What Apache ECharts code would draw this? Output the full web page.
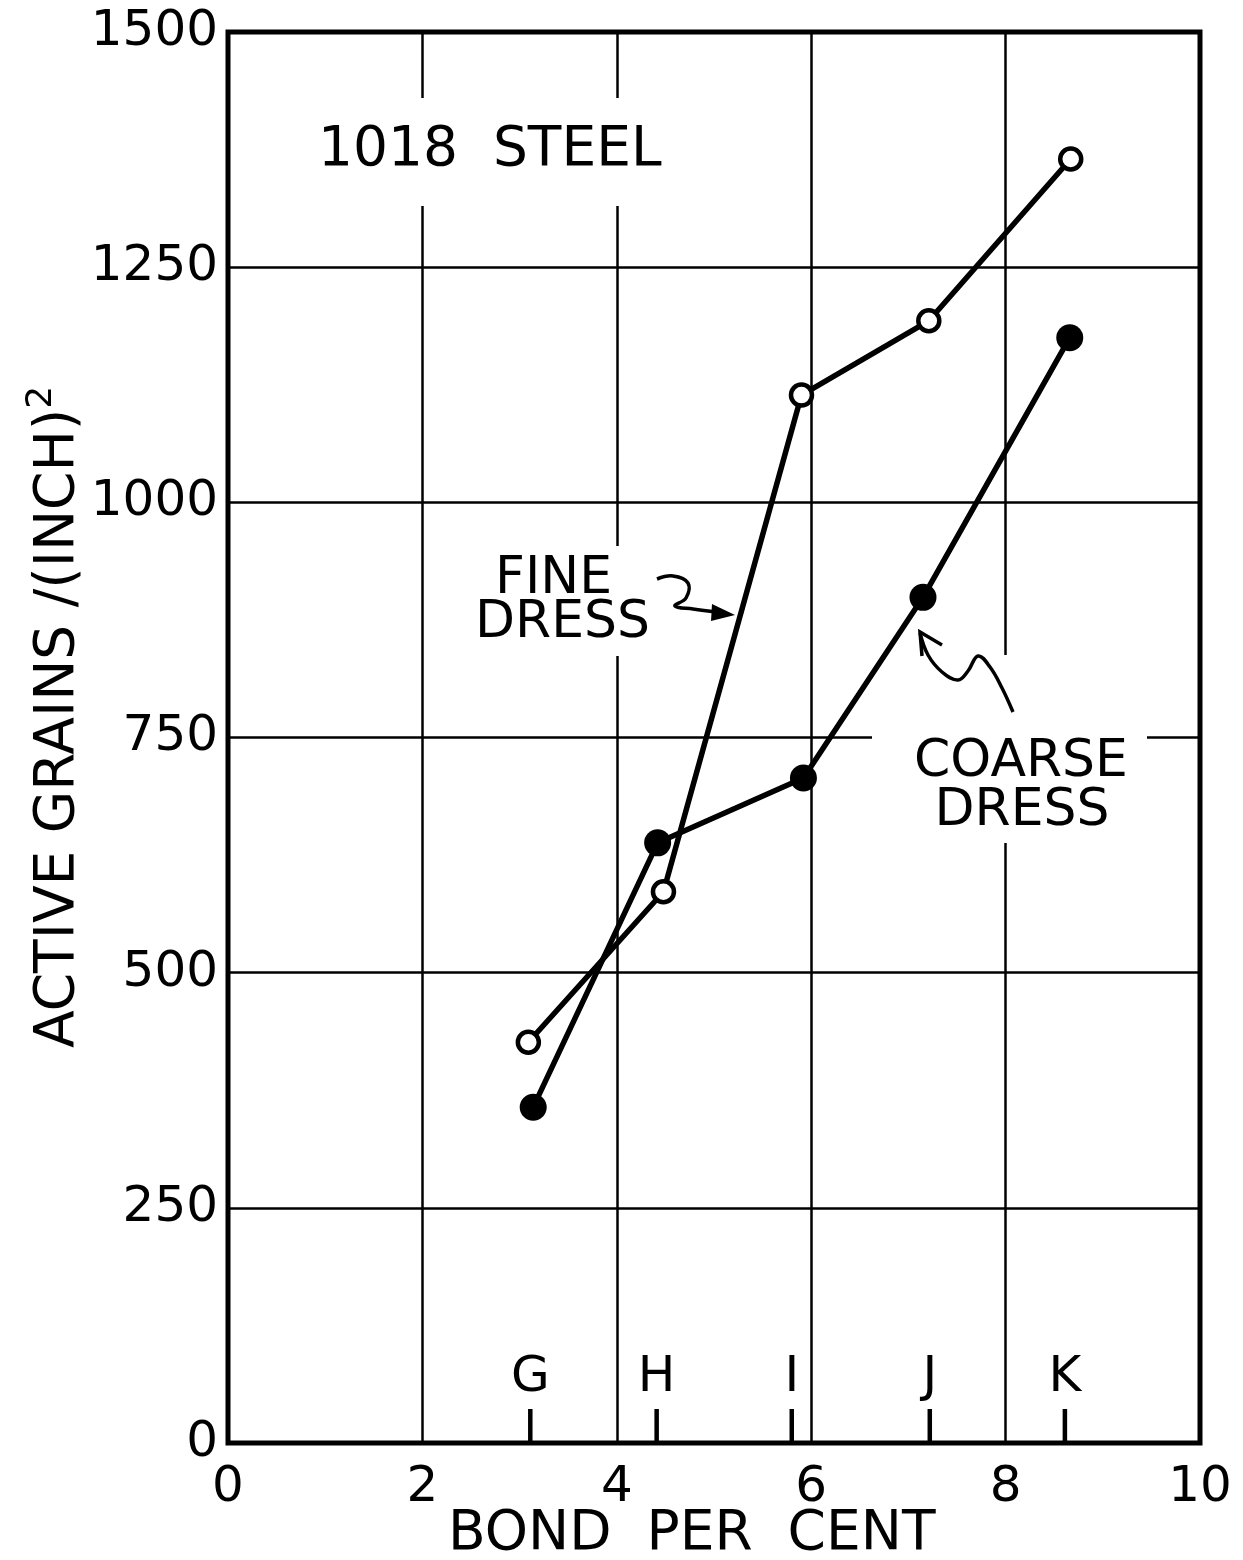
<!DOCTYPE html>
<html><head><meta charset="utf-8">
<script src="https://cdn.jsdelivr.net/npm/echarts@6/dist/echarts.min.js"></script>
<style>html,body{margin:0;padding:0;background:#fff}#c{width:1243px;height:1560px}</style>
</head><body><div id="c"></div>
<script>
// ---- data ----
const xTicks = [0, 2, 4, 6, 8, 10];
const yTicks = [0, 250, 500, 750, 1000, 1250, 1500];
const fineBond = [3.09, 4.48, 5.90, 7.21, 8.67];
const fineGrains = [426, 586, 1114, 1193, 1365];
const coarseBond = [3.14, 4.42, 5.92, 7.15, 8.66];
const coarseGrains = [357, 638, 707, 899, 1175];
const bondGrades = ['G', 'H', 'I', 'J', 'K'];
const bondGradeX = [3.11, 4.41, 5.80, 7.22, 8.61];

const FONT = 'DejaVu Sans';
const chart = echarts.init(document.getElementById('c'), null, {renderer: 'canvas'});

const txt = (text, x, y, size, align) => ({
  type: 'text', x: x, y: y, z: 20,
  style: {text: text, fill: '#000', font: size + 'px "' + FONT + '"', textAlign: align || 'left', textVerticalAlign: 'middle'}
});
const white = (x, y, w, h) => ({type: 'rect', z: 15, shape: {x: x, y: y, width: w, height: h}, style: {fill: '#fff'}});

const option = {
  backgroundColor: '#fff',
  animation: false,
  grid: {left: 228, right: 43, top: 32, bottom: 117, show: true, borderColor: '#000', borderWidth: 5, backgroundColor: 'transparent'},
  xAxis: {
    type: 'value', min: xTicks[0], max: xTicks[xTicks.length - 1], interval: xTicks[1] - xTicks[0],
    axisLine: {show: false}, axisTick: {show: false},
    splitLine: {show: true, lineStyle: {color: '#000', width: 2.5}},
    axisLabel: {color: '#000', fontFamily: FONT, fontSize: 50, margin: 20, formatter: v => String(v)}
  },
  yAxis: {
    type: 'value', min: yTicks[0], max: yTicks[yTicks.length - 1], interval: yTicks[1] - yTicks[0],
    axisLine: {show: false}, axisTick: {show: false},
    splitLine: {show: true, lineStyle: {color: '#000', width: 2.5}},
    axisLabel: {color: '#000', fontFamily: FONT, fontSize: 50, margin: 10, formatter: v => String(v)}
  },
  series: [
    {
      name: 'COARSE DRESS', type: 'line', z: 3,
      data: coarseBond.map((x, i) => [x, coarseGrains[i]]),
      symbol: 'circle', symbolSize: 27, showSymbol: true,
      lineStyle: {color: '#000', width: 5.5},
      itemStyle: {color: '#000', borderWidth: 0, opacity: 1},
      emphasis: {disabled: true}
    },
    {
      name: 'FINE DRESS', type: 'line', z: 4,
      data: fineBond.map((x, i) => [x, fineGrains[i]]),
      symbol: 'circle', symbolSize: 21, showSymbol: true,
      lineStyle: {color: '#000', width: 5.5},
      itemStyle: {color: '#fff', borderColor: '#000', borderWidth: 4.5, opacity: 1},
      emphasis: {disabled: true}
    },
    {
      name: 'Bond grade', type: 'scatter', z: 3, clip: false,
      data: bondGradeX.map((x) => [x, 0]),
      symbol: 'rect', symbolSize: [4.5, 34], symbolOffset: [0, -17],
      itemStyle: {color: '#000', opacity: 1},
      label: {show: true, position: 'top', distance: 6, color: '#000', fontFamily: FONT, fontSize: 50,
        formatter: p => bondGrades[p.dataIndex]},
      emphasis: {disabled: true}
    }
  ],
  graphic: [
    white(300, 98, 390, 108),
    white(470, 546, 205, 110),
    white(872, 732, 275, 14),
    white(997, 655, 16, 188),
    txt('1018  STEEL', 318, 151, 55),
    txt('FINE', 495, 579, 52),
    txt('DRESS', 475, 623, 52),
    txt('COARSE', 1021, 762, 52, 'center'),
    txt('DRESS', 1022, 811, 52, 'center'),
    txt('BOND  PER  CENT', 448, 1535, 55),
    {
      type: 'text', x: 55, y: 1048, rotation: Math.PI / 2, z: 20,
      style: {
        text: '{m|ACTIVE GRAINS /(INCH)}{s|2}', textAlign: 'left', textVerticalAlign: 'middle', fill: '#000',
        rich: {
          m: {fontFamily: FONT, fontSize: 55, lineHeight: 60, verticalAlign: 'bottom', fill: '#000'},
          s: {fontFamily: FONT, fontSize: 36, lineHeight: 62, verticalAlign: 'top', fill: '#000'}
        }
      }
    },
    // fine dress arrow
    {type: 'polyline', z: 20, shape: {points: [[657,579],[673,576],[688,583],[686,598],[675,606],[693,609],[717,612]], smooth: 0.4},
      style: {stroke: '#000', lineWidth: 3.5, fill: null}},
    {type: 'polygon', z: 20, shape: {points: [[712,604],[735,615],[711,621]]}, style: {fill: '#000'}},
    // coarse dress arrow
    {type: 'polyline', z: 20, shape: {points: [[920,633],[928,655],[942,672],[958,680],[968,671],[978,656],[990,667],[1002,688],[1013,712]], smooth: 0.4},
      style: {stroke: '#000', lineWidth: 3.5, fill: null}},
    {type: 'polyline', z: 20, shape: {points: [[942,645],[920,632],[922,656]]}, style: {stroke: '#000', lineWidth: 3.5, fill: null}}
  ]
};
chart.setOption(option);
</script>
</body></html>
